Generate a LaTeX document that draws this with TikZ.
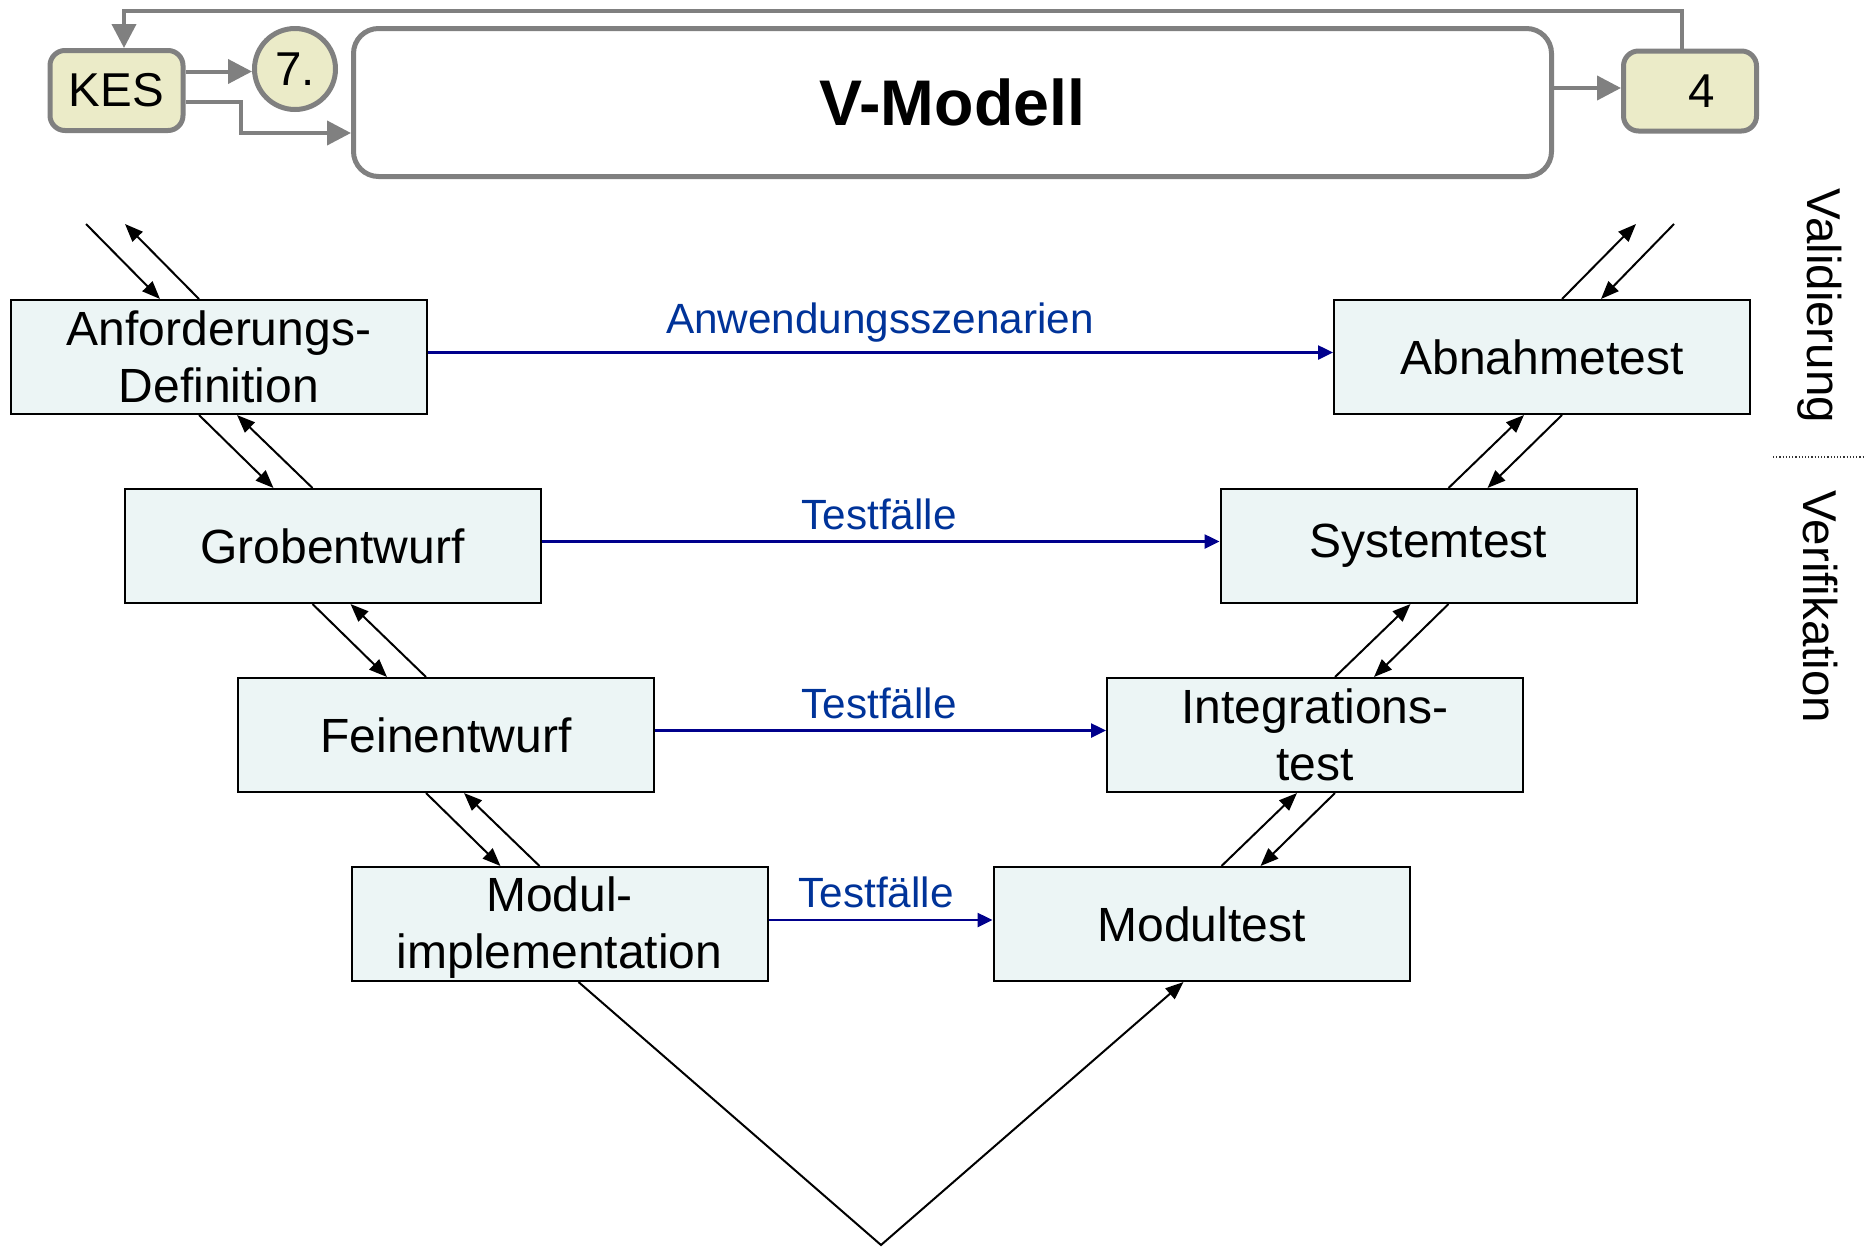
\documentclass[tikz,border=0pt]{standalone}
\usepackage{fontspec}
\setmainfont{Liberation Sans}
\usetikzlibrary{arrows.meta,calc}
\definecolor{beige}{RGB}{235,235,200}
\definecolor{grayline}{RGB}{128,128,128}
\definecolor{boxfill}{RGB}{236,245,245}
\definecolor{navyline}{RGB}{0,0,140}
\definecolor{labelblue}{RGB}{0,51,153}
\begin{document}
\begin{tikzpicture}[x=1pt,y=-1pt,
  vbox/.style={draw=black,line width=2pt,fill=boxfill,minimum width=416pt,minimum height=114pt,inner sep=0pt,align=center,font=\fontsize{48}{57}\selectfont},
  topbox/.style={draw=grayline,line width=5pt,fill=beige,rounded corners=15pt,minimum width=133pt,minimum height=80pt,inner sep=0pt,font=\fontsize{47.5}{56}\selectfont},
  circbox/.style={draw=grayline,line width=5pt,fill=beige,circle,minimum size=81pt,inner sep=0pt,font=\fontsize{47.5}{56}\selectfont},
  titlebox/.style={draw=grayline,line width=5pt,fill=white,rounded corners=25pt,minimum width=1198pt,minimum height=148pt,inner sep=0pt,font=\fontsize{64.5}{77}\selectfont\bfseries},
  grayarrow/.style={draw=grayline,line width=4pt,-{Triangle[length=24pt,width=24pt]}},
  blk/.style={draw=black,line width=2pt,-{Triangle[length=18pt,width=14pt]}},
  bluearrow/.style={draw=navyline,line width=2.5pt,-{Triangle[length=15pt,width=14pt]}},
  lbl/.style={text=labelblue,inner sep=0pt,font=\fontsize{42.3}{50}\selectfont},
  sidelbl/.style={inner sep=0pt,rotate=-90,font=\fontsize{47.5}{56}\selectfont}
]
\useasboundingbox (0,0) rectangle (1866,1248);

% top row
\node[topbox] (kes) at (116.5,90.5) {KES};
\node[circbox] (seven) at (295,69) {7.};
\node[titlebox] (vmodel) at (952.5,102.5) {V-Modell};
\node[topbox] (four) at (1690,91) {\hspace*{24pt}4};

\draw[grayarrow] ([xshift=-8pt]four.north) -- ++(0,-37.5) -| ([xshift=7.5pt]kes.north);
\draw[grayarrow] ([yshift=19pt]kes.east) -- ([yshift=19pt]kes.east -| seven.west);
\draw[grayarrow] ([yshift=-11.5pt]kes.east) -- ++(55,0) |- ([yshift=-30.5pt]vmodel.west);
\draw[grayarrow] ([yshift=14.5pt]vmodel.east) -- ([yshift=3pt]four.west);

% left boxes
\node[vbox] (anf) at (219,357) {Anforderungs-\\Definition};
\node[vbox] (grob) at (332.5,546) {Grobentwurf};
\node[vbox] (fein) at (446,735) {Feinentwurf};
\node[vbox] (modul) at (559.5,924) {};
\node[font=\fontsize{48}{57}\selectfont,align=center,inner sep=0pt] (modultxt) at (559.5,928) {Modul-\\implementation};

% right boxes
\node[vbox] (abn) at (1542,357) {Abnahmetest};
\node[vbox] (sys) at (1428.5,546) {Systemtest};
\node[vbox] (integ) at (1315,735) {Integrations-\\test};
\node[vbox] (modtest) at (1201.5,924) {Modultest};

% horizontal blue arrows
\draw[bluearrow] ([yshift=4.5pt]anf.east) -- ([yshift=4.5pt]abn.west);
\draw[bluearrow] ([yshift=4.5pt]grob.east) -- ([yshift=4.5pt]sys.west);
\draw[bluearrow] ([yshift=4.5pt]fein.east) -- ([yshift=4.5pt]integ.west);
\draw[bluearrow] ([yshift=4pt]modul.east) -- ([yshift=4pt]modtest.west);

\node[lbl,anchor=base] (l1) at (880,333) {Anwendungsszenarien};
\node[lbl,anchor=base] (l2) at (879,529) {Testfälle};
\node[lbl,anchor=base] (l3) at (879,718) {Testfälle};
\node[lbl,anchor=base] (l4) at (876,907) {Testfälle};

% free ends at top
\coordinate (inL) at (86,224);
\coordinate (outL) at (125,224);
\coordinate (inR) at (1674,224);
\coordinate (outR) at (1636,224);
\draw[blk] (inL) -- ($(anf.north west)+(150,0)$);
\draw[blk] ($(anf.north west)+(189,0)$) -- (outL);
\draw[blk] (inR) -- ($(abn.north east)+(-150,0)$);
\draw[blk] ($(abn.north east)+(-189,0)$) -- (outR);

% left pairs
\foreach \u/\l in {anf/grob,grob/fein,fein/modul}{
  \draw[blk] ($(\u.south west)+(189,0)$) -- ($(\l.north west)+(150,0)$);
  \draw[blk] ($(\l.north west)+(189,0)$) -- ($(\u.south west)+(227,0)$);
}
% right pairs
\foreach \u/\l in {abn/sys,sys/integ,integ/modtest}{
  \draw[blk] ($(\l.north east)+(-189,0)$) -- ($(\u.south east)+(-227,0)$);
  \draw[blk] ($(\u.south east)+(-189,0)$) -- ($(\l.north east)+(-150,0)$);
}

% bottom V
\coordinate (apex) at (881,1245);
\draw[blk] ($(modul.south west)+(228,0)$) -- (apex) -- ($(modtest.south east)+(-227,0)$);

% side labels
\node[sidelbl] (val) at (1820,306) {Validierung};
\node[sidelbl] (ver) at (1820,607) {Verifikation};
\draw[line width=1.2pt,dotted,draw=black!80] (1773,457) -- (1866,457);
\end{tikzpicture}
\end{document}
